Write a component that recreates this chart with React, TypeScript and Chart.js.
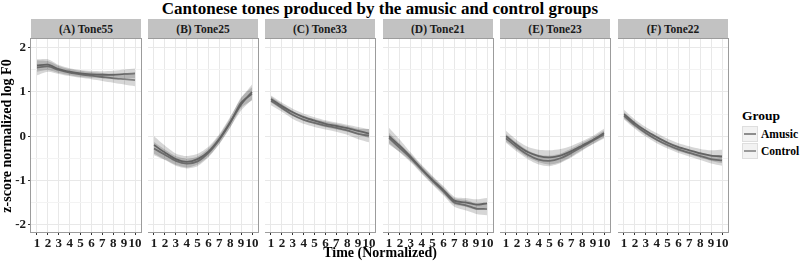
import React, { useEffect, useRef } from "react";
import { Chart, registerables } from "chart.js";

Chart.register(...registerables);

// ---------- data ----------
const timePoints = [1, 2, 3, 4, 5, 6, 7, 8, 9, 10];
const yTicks = [-2, -1.5, -1, -0.5, 0, 0.5, 1, 1.5, 2];
const groups = ["Amusic", "Control"];
const panelTitles = ["(A) Tone55", "(B) Tone25", "(C) Tone33", "(D) Tone21", "(E) Tone23", "(F) Tone22"];

const tone55Amusic = [1.6, 1.62, 1.52, 1.46, 1.42, 1.4, 1.39, 1.39, 1.41, 1.42];
const tone55Control = [1.55, 1.58, 1.5, 1.44, 1.4, 1.37, 1.34, 1.31, 1.29, 1.27];
const tone55AmusicCI = [0.14, 0.12, 0.09, 0.08, 0.08, 0.08, 0.08, 0.09, 0.1, 0.11];
const tone55ControlCI = [0.17, 0.12, 0.09, 0.08, 0.08, 0.08, 0.09, 0.1, 0.12, 0.14];

const tone25Amusic = [-0.2, -0.37, -0.52, -0.58, -0.52, -0.35, -0.06, 0.32, 0.72, 1.0];
const tone25Control = [-0.28, -0.42, -0.56, -0.62, -0.57, -0.38, -0.08, 0.3, 0.76, 0.96];
const tone25AmusicCI = [0.2, 0.16, 0.13, 0.13, 0.12, 0.11, 0.11, 0.12, 0.14, 0.17];
const tone25ControlCI = [0.15, 0.12, 0.11, 0.11, 0.11, 0.1, 0.1, 0.11, 0.12, 0.15];

const tone33Amusic = [0.84, 0.68, 0.54, 0.43, 0.35, 0.28, 0.23, 0.18, 0.12, 0.06];
const tone33Control = [0.8, 0.64, 0.48, 0.37, 0.3, 0.24, 0.19, 0.13, 0.05, 0.01];
const tone33AmusicCI = [0.08, 0.08, 0.08, 0.08, 0.08, 0.08, 0.08, 0.08, 0.09, 0.1];
const tone33ControlCI = [0.1, 0.09, 0.09, 0.09, 0.09, 0.09, 0.09, 0.1, 0.12, 0.15];

const tone21Amusic = [0.0, -0.22, -0.47, -0.74, -0.99, -1.22, -1.46, -1.5, -1.55, -1.52];
const tone21Control = [-0.04, -0.27, -0.5, -0.76, -1.01, -1.25, -1.5, -1.56, -1.64, -1.65];
const tone21AmusicCI = [0.19, 0.14, 0.1, 0.09, 0.09, 0.09, 0.09, 0.1, 0.12, 0.12];
const tone21ControlCI = [0.12, 0.1, 0.09, 0.09, 0.09, 0.09, 0.1, 0.12, 0.12, 0.14];

const tone23Amusic = [0.0, -0.2, -0.36, -0.45, -0.48, -0.44, -0.34, -0.21, -0.08, 0.07];
const tone23Control = [-0.05, -0.25, -0.42, -0.53, -0.56, -0.5, -0.38, -0.24, -0.1, 0.04];
const tone23AmusicCI = [0.12, 0.11, 0.12, 0.14, 0.16, 0.15, 0.12, 0.1, 0.09, 0.1];
const tone23ControlCI = [0.1, 0.1, 0.1, 0.11, 0.12, 0.11, 0.1, 0.09, 0.08, 0.09];

const tone22Amusic = [0.5, 0.29, 0.12, -0.02, -0.15, -0.25, -0.32, -0.39, -0.44, -0.46];
const tone22Control = [0.46, 0.25, 0.07, -0.08, -0.2, -0.3, -0.38, -0.45, -0.52, -0.55];
const tone22AmusicCI = [0.1, 0.09, 0.09, 0.09, 0.09, 0.09, 0.09, 0.1, 0.12, 0.15];
const tone22ControlCI = [0.08, 0.08, 0.08, 0.08, 0.08, 0.08, 0.08, 0.09, 0.1, 0.12];

const amusicSeries = [tone55Amusic, tone25Amusic, tone33Amusic, tone21Amusic, tone23Amusic, tone22Amusic];
const controlSeries = [tone55Control, tone25Control, tone33Control, tone21Control, tone23Control, tone22Control];
const amusicCI = [tone55AmusicCI, tone25AmusicCI, tone33AmusicCI, tone21AmusicCI, tone23AmusicCI, tone22AmusicCI];
const controlCI = [tone55ControlCI, tone25ControlCI, tone33ControlCI, tone21ControlCI, tone23ControlCI, tone22ControlCI];

// ---------- layout / style ----------
const SERIF = "'Liberation Serif', 'Times New Roman', serif";
const PANEL_LEFTS = [31, 148, 265, 383, 500, 618];
const PANEL_W = 110;
const PANEL_TOP = 39;
const PANEL_H = 193;
const X_AXIS_H = 20;
const FIRST_Y_AXIS_W = 31;
const PAD_R = 8;
const LINE_COLORS = ["#8d8d8d", "#9a9a9a"];
const RIBBON_COLOR = "rgba(0,0,0,0.16)";

const borderPlugin = {
  id: "panelBorder",
  afterDraw(chart: any) {
    const { ctx, chartArea } = chart;
    ctx.save();
    ctx.strokeStyle = "#9c9c9c";
    ctx.lineWidth = 1;
    ctx.strokeRect(
      Math.round(chartArea.left) - 0.5,
      Math.round(chartArea.top) - 0.5,
      Math.round(chartArea.right - chartArea.left) + 1,
      Math.round(chartArea.bottom - chartArea.top) + 1
    );
    ctx.restore();
  },
};

const toPts = (vals: number[]) => vals.map((v, i) => ({ x: timePoints[i], y: v }));

function Panel({ index }: { index: number }) {
  const ref = useRef<HTMLCanvasElement | null>(null);
  const first = index === 0;
  const yW = first ? FIRST_Y_AXIS_W : 0;
  const cw = yW + PANEL_W + PAD_R;
  const ch = 1 + PANEL_H + X_AXIS_H;
  const left = PANEL_LEFTS[index] - yW;

  useEffect(() => {
    if (!ref.current) return;
    const am = amusicSeries[index];
    const ct = controlSeries[index];
    const amc = amusicCI[index];
    const ctc = controlCI[index];
    const ribbonBase = {
      borderWidth: 0,
      pointRadius: 0,
      tension: 0.25,
      backgroundColor: RIBBON_COLOR,
      borderColor: "transparent",
    };
    const lineBase = { borderWidth: 1.8, pointRadius: 0, tension: 0.25, fill: false };
    const chart = new Chart(ref.current, {
      type: "line",
      data: {
        datasets: [
          { ...ribbonBase, label: "amU", data: toPts(am.map((v, i) => v + amc[i])), fill: false },
          { ...ribbonBase, label: "amL", data: toPts(am.map((v, i) => v - amc[i])), fill: "-1" },
          { ...ribbonBase, label: "ctU", data: toPts(ct.map((v, i) => v + ctc[i])), fill: false },
          { ...ribbonBase, label: "ctL", data: toPts(ct.map((v, i) => v - ctc[i])), fill: "-1" },
          { ...lineBase, label: groups[0], data: toPts(am), borderColor: LINE_COLORS[0] },
          { ...lineBase, label: groups[1], data: toPts(ct), borderColor: LINE_COLORS[1] },
        ],
      },
      options: {
        responsive: false,
        animation: false,
        layout: { padding: { top: 1, right: PAD_R, left: 0, bottom: 0 } },
        plugins: { legend: { display: false }, tooltip: { enabled: false }, title: { display: false } },
        scales: {
          x: {
            type: "linear",
            min: 0.45,
            max: 10.55,
            afterBuildTicks: (s: any) => {
              s.ticks = timePoints.map((v) => ({ value: v }));
            },
            afterFit: (s: any) => {
              s.height = X_AXIS_H;
              s.paddingLeft = 0;
              s.paddingRight = 0;
              s.paddingTop = 0;
              s.paddingBottom = 0;
            },
            border: { display: false },
            grid: { color: "#e8e8e8", lineWidth: 1, drawTicks: true, tickLength: 3, tickColor: "#333333", tickWidth: 1 },
            ticks: {
              padding: 1,
              color: "#1a1a1a",
              font: { family: SERIF, size: 13, weight: "bold" },
              maxRotation: 0,
              autoSkip: false,
              callback: (v: any) => String(v),
            },
          },
          y: {
            type: "linear",
            min: -2.17,
            max: 2.2,
            afterBuildTicks: (s: any) => {
              s.ticks = yTicks.map((v) => ({ value: v }));
            },
            afterFit: (s: any) => {
              s.width = yW;
              s.paddingLeft = 0;
              s.paddingRight = 0;
              s.paddingTop = 0;
              s.paddingBottom = 0;
            },
            border: { display: false },
            grid: {
              color: (c: any) => (Number.isInteger(c.tick?.value) ? "#e8e8e8" : "#f3f3f3"),
              lineWidth: 1,
              drawTicks: first,
              tickLength: 3,
              tickColor: (c: any) => (Number.isInteger(c.tick?.value) ? "#333333" : "rgba(0,0,0,0)"),
            },
            ticks: {
              display: first,
              padding: 2,
              color: "#1a1a1a",
              font: { family: SERIF, size: 13, weight: "bold" },
              autoSkip: false,
              callback: (v: any) => (Number.isInteger(v) ? String(v) : ""),
            },
          },
        },
      },
      plugins: [borderPlugin],
    } as any);
    return () => chart.destroy();
  }, [index]);

  return (
    <>
      <div
        style={{
          position: "absolute",
          left: PANEL_LEFTS[index],
          top: 19,
          width: PANEL_W,
          height: 20,
          background: "#c2c2c2",
          color: "#1a1a1a",
          font: `bold 11.5px ${SERIF}`,
          lineHeight: "20px",
          textAlign: "center",
        }}
      >
        {panelTitles[index]}
      </div>
      <canvas
        ref={ref}
        width={cw}
        height={ch}
        style={{ position: "absolute", left, top: PANEL_TOP - 1, width: cw, height: ch }}
      />
    </>
  );
}

export default function App() {
  return (
    <div
      style={{
        position: "absolute",
        left: 0,
        top: 0,
        width: 800,
        height: 264,
        background: "#ffffff",
        overflow: "hidden",
        fontFamily: SERIF,
      }}
    >
      <div
        style={{
          position: "absolute",
          left: 0,
          width: 760,
          top: -1,
          textAlign: "center",
          font: `bold 17px ${SERIF}`,
          lineHeight: "19px",
          color: "#000",
        }}
      >
        Cantonese tones produced by the amusic and control groups
      </div>
      {panelTitles.map((_, i) => (
        <Panel key={i} index={i} />
      ))}
      <div
        style={{
          position: "absolute",
          left: 8 - 100,
          top: 136 - 9,
          width: 200,
          height: 18,
          lineHeight: "18px",
          textAlign: "center",
          transform: "rotate(-90deg)",
          font: `bold 14px ${SERIF}`,
          color: "#000",
        }}
      >
        z-score normalized log F0
      </div>
      <div
        style={{
          position: "absolute",
          left: 280,
          width: 200,
          top: 245,
          textAlign: "center",
          font: `bold 14px ${SERIF}`,
          lineHeight: "16px",
          color: "#000",
        }}
      >
        Time (Normalized)
      </div>
      <div style={{ position: "absolute", left: 742, top: 108, font: `bold 13.5px ${SERIF}`, lineHeight: "16px", color: "#000" }}>
        Group
      </div>
      {groups.map((g, i) => (
        <React.Fragment key={g}>
          <div
            style={{
              position: "absolute",
              left: 742,
              top: 126 + i * 17,
              width: 16,
              height: 16,
              background: "#f2f2f2",
              border: "1px solid #dedede",
              boxSizing: "border-box",
            }}
          >
            <div style={{ position: "absolute", left: 1, right: 1, top: 6, height: 2, background: LINE_COLORS[i] }} />
          </div>
          <div
            style={{
              position: "absolute",
              left: 761,
              top: 126 + i * 17,
              font: `bold 11.5px ${SERIF}`,
              lineHeight: "16px",
              color: "#000",
            }}
          >
            {g}
          </div>
        </React.Fragment>
      ))}
    </div>
  );
}
